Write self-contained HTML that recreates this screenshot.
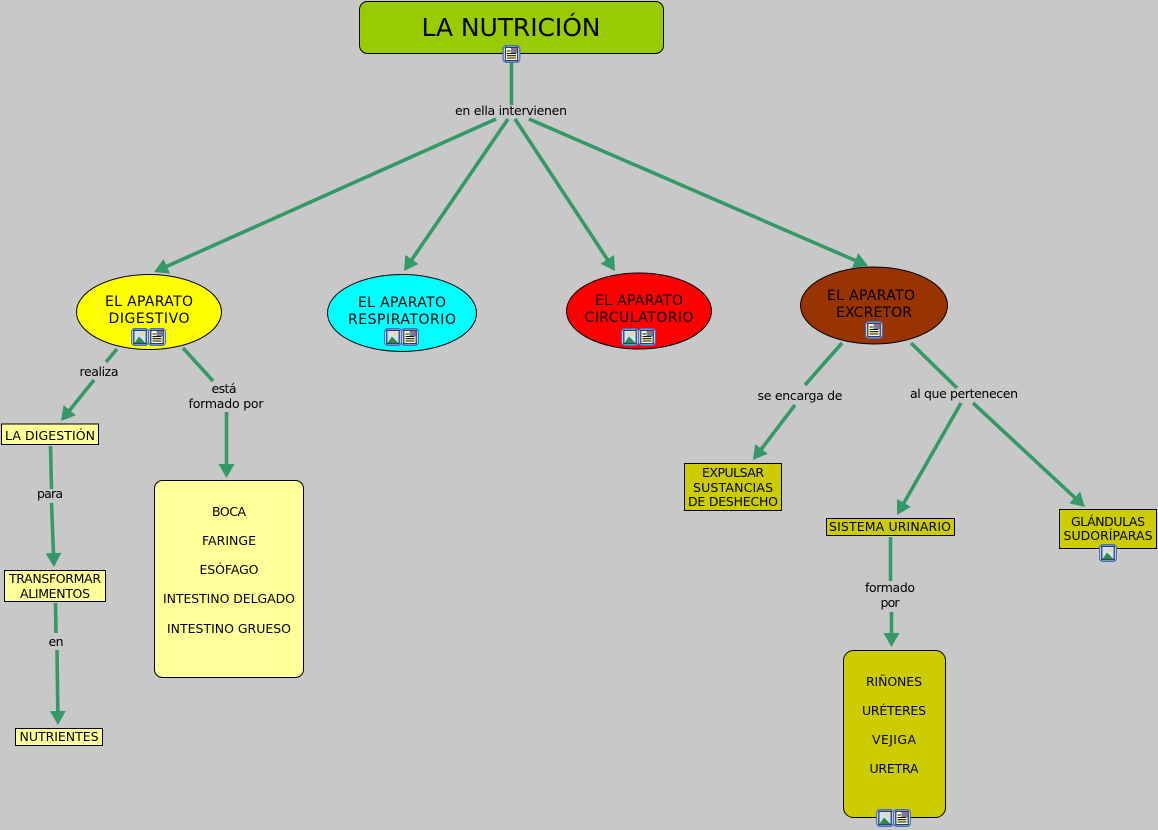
<!DOCTYPE html>
<html lang="es">
<head>
<meta charset="utf-8">
<title>La Nutrición</title>
<style>
html,body{margin:0;padding:0;background:#c8c8c8;width:1158px;height:830px;overflow:hidden}
svg{display:block}
text{font-family:"DejaVu Sans","Liberation Sans",sans-serif;font-size:12.5px;fill:#000;text-anchor:middle}
.n{stroke:#000;stroke-width:1}
.c{stroke:#339966;stroke-width:3.6;fill:none}
</style>
</head>
<body>
<svg width="1158" height="830" viewBox="0 0 1158 830" xmlns="http://www.w3.org/2000/svg">
<defs>
<marker id="a" markerUnits="userSpaceOnUse" markerWidth="16" markerHeight="16" refX="10" refY="8" orient="auto">
<path d="M0 0L14 8L0 16Z" fill="#339966"/>
</marker>
<symbol id="doc" viewBox="0 0 18 18">
<rect x="0.7" y="0.7" width="16.6" height="16.6" rx="3" fill="#fff" stroke="#4070c8" stroke-width="1.3"/>
<rect x="2.800" y="2.300" width="12.400" height="13.400" fill="#ffffc8" stroke="#0c1f50" stroke-width="1.1"/>
<path d="M4.500 6h3.500M4.500 8.500h9M4.500 10.700h9M4.500 13h9" stroke="#111" stroke-width="1.1"/>
<rect x="8.500" y="3" width="6" height="5" fill="#6a7fb0"/>
<rect x="11.500" y="3" width="3" height="2.200" fill="#d06050"/>
</symbol>
<symbol id="img" viewBox="0 0 18 18">
<rect x="0.7" y="0.7" width="16.6" height="16.6" rx="3" fill="#fff" stroke="#4070c8" stroke-width="1.3"/>
<rect x="2.800" y="2.300" width="12.400" height="13.400" fill="#cfe3f3" stroke="#0c1f50" stroke-width="1.1"/>
<circle cx="11" cy="6" r="1.800" fill="#f3d96a"/>
<path d="M3.300 15.200L8 8.500L14.700 15.200Z" fill="#2f8a4a"/>
</symbol>
</defs>

<rect width="1158" height="830" fill="#c8c8c8"/>

<!-- connectors -->
<path class="c" d="M511.500 62V105"/>
<path class="c" d="M496 119L157.700 270.400" marker-end="url(#a)"/>
<path class="c" d="M508 119L406.300 267.700" marker-end="url(#a)"/>
<path class="c" d="M515 119L612.800 267.700" marker-end="url(#a)"/>
<path class="c" d="M529 119L864.300 264.400" marker-end="url(#a)"/>
<path class="c" d="M117 349L106 362"/>
<path class="c" d="M94 380L63.500 417.900" marker-end="url(#a)"/>
<path class="c" d="M183 348L213 381"/>
<path class="c" d="M226.500 412V474" marker-end="url(#a)"/>
<path class="c" d="M50.500 446L51.500 489"/>
<path class="c" d="M51.500 503L53.850 563" marker-end="url(#a)"/>
<path class="c" d="M55.500 603L56 633"/>
<path class="c" d="M57 650L57.950 721" marker-end="url(#a)"/>
<path class="c" d="M842 343L805 385"/>
<path class="c" d="M795 405L755.400 456.800" marker-end="url(#a)"/>
<path class="c" d="M911 343L957 388"/>
<path class="c" d="M961 403L899 511.500" marker-end="url(#a)"/>
<path class="c" d="M973 403L1082 504.300" marker-end="url(#a)"/>
<path class="c" d="M890.500 537V581"/>
<path class="c" d="M891.500 612V643" marker-end="url(#a)"/>

<!-- nodes -->
<rect class="n" x="359.500" y="1.500" width="304" height="52" rx="8" fill="#99cc00"/>
<ellipse class="n" cx="149" cy="312" rx="72.500" ry="37.500" fill="#ffff00"/>
<ellipse class="n" cx="402" cy="313" rx="74.500" ry="38.500" fill="#00ffff"/>
<ellipse class="n" cx="639" cy="311" rx="72.500" ry="38" fill="#ff0000"/>
<ellipse class="n" cx="874" cy="305.500" rx="73.500" ry="38.500" fill="#993300"/>
<rect class="n" x="1.500" y="424" width="97" height="20.500" fill="#ffff99"/>
<rect class="n" x="4.500" y="570.500" width="101" height="31" fill="#ffff99"/>
<rect class="n" x="15.500" y="728.500" width="87" height="17" fill="#ffff99"/>
<rect class="n" x="154.500" y="480.500" width="149" height="197" rx="8" fill="#ffff99"/>
<rect class="n" x="684.500" y="463.500" width="97" height="47" fill="#cccc00"/>
<rect class="n" x="826.500" y="518.500" width="128" height="17" fill="#cccc00"/>
<rect class="n" x="1059.500" y="509.500" width="97" height="39" fill="#cccc00"/>
<rect class="n" x="843.500" y="650.500" width="102" height="167" rx="10" fill="#cccc00"/>

<!-- node text -->
<text x="511" y="36" style="font-size:25px" textLength="179">LA NUTRICIÓN</text>
<text x="149" y="306" style="font-size:14px" textLength="88">EL APARATO</text>
<text x="149" y="323" style="font-size:14px" textLength="81">DIGESTIVO</text>
<text x="402" y="307" style="font-size:14px" textLength="88">EL APARATO</text>
<text x="402" y="324" style="font-size:14px" textLength="108">RESPIRATORIO</text>
<text x="639" y="305" style="font-size:14px" textLength="88">EL APARATO</text>
<text x="639" y="322" style="font-size:14px" textLength="109">CIRCULATORIO</text>
<text x="871" y="300" style="font-size:14px" textLength="88">EL APARATO</text>
<text x="874" y="317" style="font-size:14px" textLength="76">EXCRETOR</text>
<text x="50" y="440" textLength="90">LA DIGESTIÓN</text>
<text x="55" y="583" textLength="92">TRANSFORMAR</text>
<text x="55" y="598" textLength="70">ALIMENTOS</text>
<text x="59" y="741" textLength="79">NUTRIENTES</text>
<text x="229" y="516" textLength="34">BOCA</text>
<text x="229" y="545" textLength="54">FARINGE</text>
<text x="229" y="574" textLength="59">ESÓFAGO</text>
<text x="229" y="603" textLength="132">INTESTINO DELGADO</text>
<text x="229" y="633" textLength="124">INTESTINO GRUESO</text>
<text x="733" y="477" textLength="62">EXPULSAR</text>
<text x="733" y="492" textLength="80">SUSTANCIAS</text>
<text x="733" y="506" textLength="90">DE DESHECHO</text>
<text x="890" y="531" textLength="122">SISTEMA URINARIO</text>
<text x="1108" y="526" textLength="74">GLÁNDULAS</text>
<text x="1108" y="540" textLength="89">SUDORÍPARAS</text>
<text x="894" y="686" textLength="56">RIÑONES</text>
<text x="894" y="715" textLength="64">URÉTERES</text>
<text x="894" y="744" textLength="44">VEJIGA</text>
<text x="894" y="773" textLength="49">URETRA</text>

<!-- connector labels -->
<text x="511" y="115" textLength="112">en ella intervienen</text>
<text x="99" y="376" textLength="39">realiza</text>
<text x="224" y="393" textLength="25">está</text>
<text x="226" y="408" textLength="75">formado por</text>
<text x="50" y="498" textLength="26">para</text>
<text x="56" y="646" textLength="15">en</text>
<text x="800" y="400" textLength="85">se encarga de</text>
<text x="964" y="398" textLength="108">al que pertenecen</text>
<text x="890" y="592" textLength="50">formado</text>
<text x="890" y="607" textLength="19">por</text>

<!-- icons -->
<use href="#doc" x="502.500" y="45" width="18" height="18"/>
<use href="#img" x="131" y="328" width="18" height="18"/>
<use href="#doc" x="148" y="328" width="18" height="18"/>
<use href="#img" x="384" y="328" width="18" height="18"/>
<use href="#doc" x="401" y="328" width="18" height="18"/>
<use href="#img" x="621" y="328" width="18" height="18"/>
<use href="#doc" x="638" y="328" width="18" height="18"/>
<use href="#doc" x="865" y="321" width="18" height="18"/>
<use href="#img" x="1099" y="544" width="18" height="18"/>
<use href="#img" x="876" y="809" width="18" height="18"/>
<use href="#doc" x="893" y="809" width="18" height="18"/>
</svg>
</body>
</html>
